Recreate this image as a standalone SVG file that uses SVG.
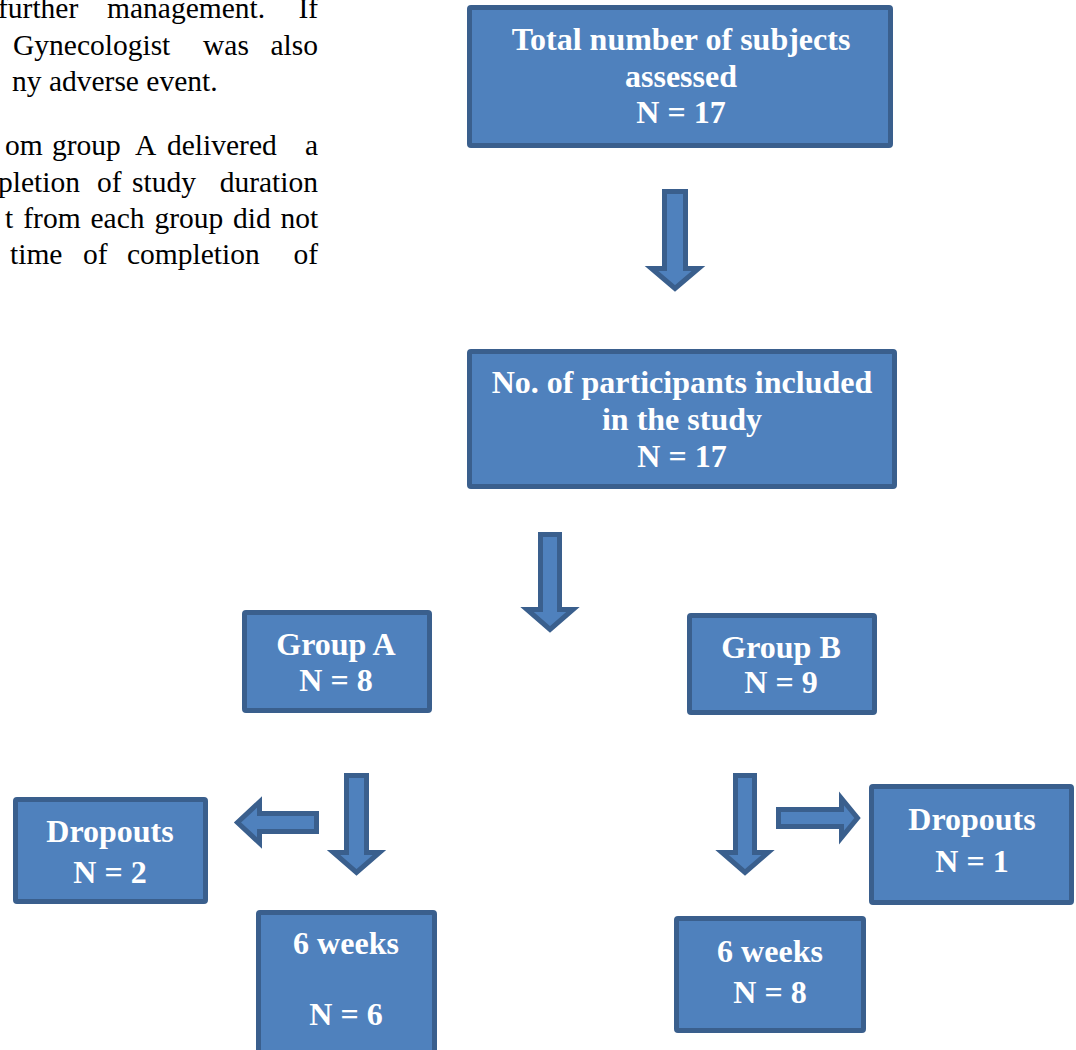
<svg xmlns="http://www.w3.org/2000/svg" width="1076" height="1050" viewBox="0 0 1076 1050">
<style>
.box{fill:#4F81BD;stroke:#3A5F8D;stroke-width:5;}
.arr{fill:#4F81BD;stroke:#3A5F8D;stroke-width:5;stroke-linejoin:miter;}
.lbl{font-family:"Liberation Serif","Times New Roman",serif;font-weight:bold;font-size:32px;fill:#FFFFFF;text-anchor:middle;}
.body{font-family:"Liberation Serif","Times New Roman",serif;font-size:29.5px;fill:#000000;}
</style>
<rect width="1076" height="1050" fill="#FFFFFF"/>
<g id="bodytext" class="body">
<text y="18"><tspan x="-2">further</tspan><tspan x="107">management.</tspan><tspan x="298.4">If</tspan></text>
<text y="55"><tspan x="13">Gynecologist</tspan><tspan x="203">was</tspan><tspan x="270.5">also</tspan></text>
<text y="91"><tspan x="12">ny adverse event.</tspan></text>
<text y="155"><tspan x="5">om</tspan><tspan x="52">group</tspan><tspan x="135">A</tspan><tspan x="167">delivered</tspan><tspan x="305">a</tspan></text>
<text y="191.5"><tspan x="-2">pletion</tspan><tspan x="97">of</tspan><tspan x="132">study</tspan><tspan x="219.7">duration</tspan></text>
<text y="227.5"><tspan x="5">t</tspan><tspan x="23.3">from</tspan><tspan x="90.5">each</tspan><tspan x="154.4">group</tspan><tspan x="233">did</tspan><tspan x="280.6">not</tspan></text>
<text y="263.5"><tspan x="10">time</tspan><tspan x="83">of</tspan><tspan x="127">completion</tspan><tspan x="293.4">of</tspan></text>
</g>
<g id="connectors">
<polygon class="arr" points="664.5,191.5 685.5,191.5 685.5,268.5 698.5,268.5 675,288.5 651.5,268.5 664.5,268.5"/>
<polygon class="arr" points="540.5,534.5 559.5,534.5 559.5,609.5 573,609.5 550,629.5 527,609.5 540.5,609.5"/>
<polygon class="arr" points="346.5,775.5 366.5,775.5 366.5,852.5 379.5,852.5 356.5,872.5 333.5,852.5 346.5,852.5"/>
<polygon class="arr" points="735.5,775.5 754.5,775.5 754.5,852.5 768,852.5 745,872.5 722,852.5 735.5,852.5"/>
<polygon class="arr" points="316.5,813.5 316.5,831.5 259.5,831.5 259.5,843 237.5,822.5 259.5,802 259.5,813.5"/>
<polygon class="arr" points="778.5,809.5 778.5,826.5 841.5,826.5 841.5,837.5 857.5,818 841.5,798.5 841.5,809.5"/>
</g>
<g id="node-total">
<rect class="box" x="469.5" y="7.5" width="421" height="138" rx="1.5"/>
<text class="lbl" x="681" y="50">Total number of subjects</text>
<text class="lbl" x="681" y="87">assessed</text>
<text class="lbl" x="681" y="123">N = 17</text>
</g>
<g id="node-included">
<rect class="box" x="469.5" y="351.5" width="425" height="135" rx="1.5"/>
<text class="lbl" x="682" y="393">No. of participants included</text>
<text class="lbl" x="682" y="430">in the study</text>
<text class="lbl" x="682" y="467">N = 17</text>
</g>
<g id="node-groupA">
<rect class="box" x="244.5" y="612.5" width="185" height="98" rx="1.5"/>
<text class="lbl" x="336" y="655">Group A</text>
<text class="lbl" x="336" y="691">N = 8</text>
</g>
<g id="node-groupB">
<rect class="box" x="689.5" y="615.5" width="185" height="97" rx="1.5"/>
<text class="lbl" x="781" y="658">Group B</text>
<text class="lbl" x="781" y="693">N = 9</text>
</g>
<g id="node-dropoutsA">
<rect class="box" x="15.5" y="799.5" width="190" height="102" rx="1.5"/>
<text class="lbl" x="110" y="842">Dropouts</text>
<text class="lbl" x="110" y="883">N = 2</text>
</g>
<g id="node-weeksA">
<rect class="box" x="258.5" y="912.5" width="176" height="160" rx="1.5"/>
<text class="lbl" x="346" y="954">6 weeks</text>
<text class="lbl" x="346" y="1025">N = 6</text>
</g>
<g id="node-dropoutsB">
<rect class="box" x="871.5" y="786.5" width="200" height="116" rx="1.5"/>
<text class="lbl" x="972" y="830">Dropouts</text>
<text class="lbl" x="972" y="872">N = 1</text>
</g>
<g id="node-weeksB">
<rect class="box" x="676.5" y="918.5" width="187" height="112" rx="1.5"/>
<text class="lbl" x="770" y="962">6 weeks</text>
<text class="lbl" x="770" y="1003">N = 8</text>
</g>
</svg>
